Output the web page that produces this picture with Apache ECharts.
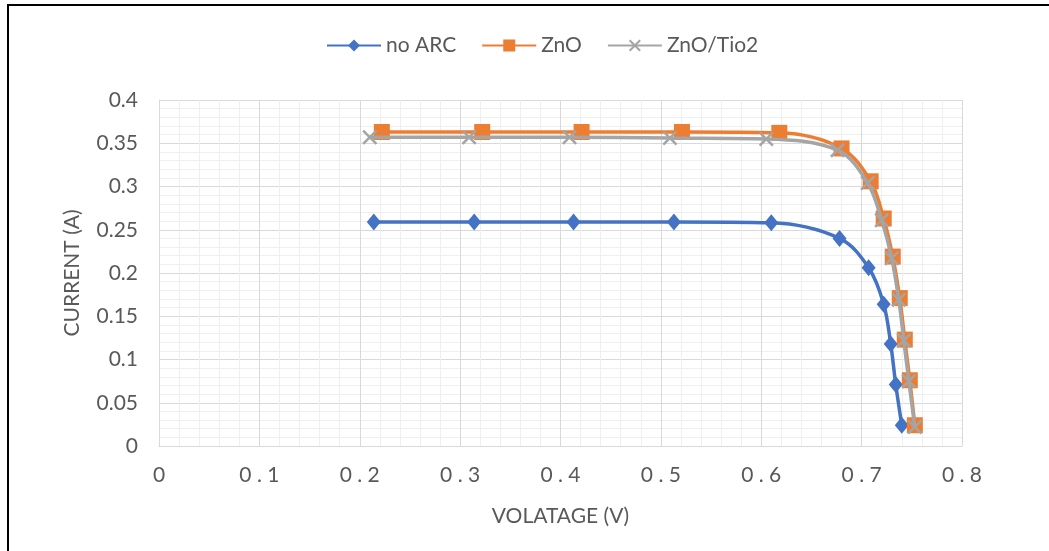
<!DOCTYPE html>
<html>
<head>
<meta charset="utf-8">
<title>I-V curves</title>
<script src="https://cdn.jsdelivr.net/npm/echarts@6/dist/echarts.min.js"></script>
<style>
  html, body { margin: 0; padding: 0; background: #fff; }
  #chart { width: 1049px; height: 551px; position: relative; }
  #frame { position: absolute; left: 7px; top: 4px; right: -10px; bottom: -10px;
           border-left: 2px solid #000; border-top: 2px solid #000; pointer-events: none; }
</style>
</head>
<body>
<div id="chart"></div>
<div id="frame"></div>
<script>
// Measured I-V points: voltage (V) and current (A) for each coating
const seriesNames = ['no ARC', 'ZnO', 'ZnO/Tio2'];

const noArcV = [0.214, 0.314, 0.413, 0.513, 0.610, 0.678, 0.707, 0.722, 0.729, 0.734, 0.740];
const noArcI = [0.259, 0.259, 0.259, 0.259, 0.258, 0.240, 0.206, 0.164, 0.118, 0.071, 0.024];

const znoV = [0.222, 0.322, 0.421, 0.521, 0.618, 0.680, 0.709, 0.722, 0.731, 0.738, 0.743, 0.748, 0.753];
const znoI = [0.363, 0.363, 0.363, 0.363, 0.362, 0.344, 0.306, 0.263, 0.219, 0.171, 0.123, 0.076, 0.024];

const znoTiV = [0.210, 0.309, 0.409, 0.509, 0.605, 0.676, 0.706, 0.720, 0.730, 0.737, 0.742, 0.747, 0.753];
const znoTiI = [0.357, 0.357, 0.357, 0.356, 0.355, 0.342, 0.304, 0.261, 0.217, 0.169, 0.122, 0.075, 0.022];

const xTickLabels = ['0', '0.1', '0.2', '0.3', '0.4', '0.5', '0.6', '0.7', '0.8'];

const pairs = (xs, ys) => xs.map((x, i) => [x, ys[i]]);

const FONT = 'Lato';
const TEXT = '#595959';
const SIZE = 21;
const crossPath = 'path://M0,1.2 L1.2,0 L5,3.8 L8.8,0 L10,1.2 L6.2,5 L10,8.8 L8.8,10 L5,6.2 L1.2,10 L0,8.8 L3.8,5 Z';

const chart = echarts.init(document.getElementById('chart'), null, { renderer: 'canvas' });

chart.setOption({
  animation: false,
  backgroundColor: '#fff',
  textStyle: { fontFamily: FONT, color: TEXT },
  legend: {
    top: 30,
    left: 321,
    itemWidth: 54,
    itemHeight: 15,
    itemGap: 25,
    textStyle: { fontFamily: FONT, fontSize: SIZE, color: TEXT },
    data: seriesNames
  },
  grid: { left: 159, right: 87, top: 100, bottom: 105, containLabel: false },
  xAxis: {
    type: 'value',
    min: 0, max: 0.8, interval: 0.1,
    name: 'VOLATAGE (V)',
    nameLocation: 'middle',
    nameGap: 60,
    nameTextStyle: { fontFamily: FONT, fontSize: SIZE, color: TEXT },
    axisLine: { show: true, lineStyle: { color: '#d9d9d9', width: 1 } },
    axisTick: { show: false },
    axisLabel: {
      margin: 19, fontFamily: FONT, fontSize: SIZE, color: TEXT,
      formatter: (v) => xTickLabels[Math.round(v * 10)].split('').join(' ')
    },
    splitLine: { show: true, lineStyle: { color: '#d9d9d9', width: 1 } },
    minorTick: { show: false, splitNumber: 5 },
    minorSplitLine: { show: true, lineStyle: { color: '#efefef', width: 1 } }
  },
  yAxis: {
    type: 'value',
    min: 0, max: 0.4, interval: 0.05,
    name: 'CURRENT (A)',
    nameLocation: 'middle',
    nameGap: 76,
    nameRotate: 90,
    nameTextStyle: { fontFamily: FONT, fontSize: SIZE, color: TEXT },
    axisLine: { show: true, lineStyle: { color: '#d9d9d9', width: 1 } },
    axisTick: { show: false },
    axisLabel: {
      margin: 21, fontFamily: FONT, fontSize: SIZE, color: TEXT,
      formatter: (v) => String(parseFloat(v.toFixed(2)))
    },
    splitLine: { show: true, lineStyle: { color: '#d9d9d9', width: 1 } },
    minorTick: { show: false, splitNumber: 5 },
    minorSplitLine: { show: true, lineStyle: { color: '#efefef', width: 1 } }
  },
  series: [
    {
      name: seriesNames[0],
      type: 'line',
      smooth: 0.35,
      data: pairs(noArcV, noArcI),
      symbol: 'diamond',
      symbolSize: [14, 17],
      lineStyle: { color: '#4472c4', width: 3.5 },
      itemStyle: { color: '#4472c4' },
      z: 2
    },
    {
      name: seriesNames[1],
      type: 'line',
      smooth: 0.35,
      data: pairs(znoV, znoI),
      symbol: 'rect',
      symbolSize: 16,
      lineStyle: { color: '#ed7d31', width: 3.5 },
      itemStyle: { color: '#ed7d31' },
      z: 3
    },
    {
      name: seriesNames[2],
      type: 'line',
      smooth: 0.35,
      data: pairs(znoTiV, znoTiI),
      symbol: crossPath,
      symbolSize: 15,
      lineStyle: { color: '#a5a5a5', width: 3.5 },
      itemStyle: { color: '#a5a5a5' },
      z: 4
    }
  ]
});
</script>
</body>
</html>
